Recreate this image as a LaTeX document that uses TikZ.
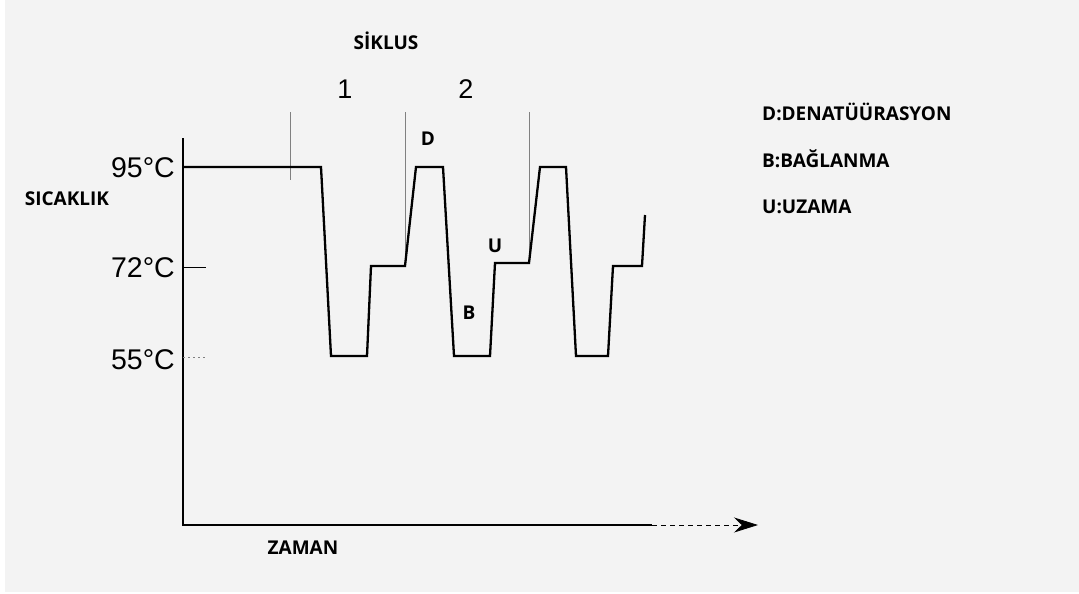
\documentclass[tikz,border=0pt]{standalone}
\usepackage{fontspec}
\setmainfont{Liberation Sans}
\newfontfamily\lblfont{Open Sans}
\usetikzlibrary{arrows.meta}
\definecolor{bg}{HTML}{F3F3F3}
\begin{document}
\begin{tikzpicture}[x=1pt,y=-1pt,
  lbl/.style={font=\lblfont\bfseries\fontsize{19}{21}\selectfont, inner sep=0pt, anchor=base},
  legend/.style={lbl, anchor=base west},
  temp/.style={font=\fontsize{28.5}{30}\selectfont, inner sep=0pt, anchor=base east},
  num/.style={font=\fontsize{27}{30}\selectfont, inner sep=0pt, anchor=base},
  curve/.style={line width=2.3pt, line join=miter},
  axis/.style={line width=1.4pt},
  cyc/.style={line width=0.9pt, draw=gray},
  tick/.style={line width=0.8pt}]
\useasboundingbox (0,0) rectangle (1079,594);
\fill[white] (0,0) rectangle (1079,594);
\fill[bg] (5,0) rectangle (1079,592);

% axes
\coordinate (o) at (183,525);
\coordinate (ytop) at (183,138);
\coordinate (xs) at (652,525);
\coordinate (xe) at (758,525);
\draw[axis] (ytop) -- (o) -- (xs);
\draw[line width=0.8pt, dash pattern=on 5pt off 4pt, -{Stealth[length=24pt,width=15pt]}] (xs) -- (xe);

% ticks
\coordinate (t72a) at (183,267);
\coordinate (t72b) at (206,267);
\coordinate (t55a) at (183,357);
\coordinate (t55b) at (206,357);
\draw[tick] (t72a) -- (t72b);
\draw[tick, draw=gray, dash pattern=on 2pt off 3pt] (t55a) -- (t55b);

% cycle separators
\coordinate (c0a) at (290,112);
\coordinate (c0b) at (290,180);
\coordinate (c1a) at (405,112);
\coordinate (c1b) at (405,266);
\coordinate (c2a) at (529,112);
\coordinate (c2b) at (529,263);
\draw[cyc] (c0a) -- (c0b);
\draw[cyc] (c1a) -- (c1b);
\draw[cyc] (c2a) -- (c2b);

% temperature profile
\draw[curve] (183,167) -- (321,167) -- (331,356) -- (367,356) -- (371,266)
  -- (405,266) -- (416,167) -- (443,167) -- (454,356) -- (490,356)
  -- (495,263) -- (529,263) -- (540,167) -- (566,167) -- (576,356)
  -- (608,356) -- (613,266) -- (642,266) -- (645,215);

% labels
\node[lbl] (siklus) at (386,50) {SİKLUS};
\node[num] (n1) at (345,99) {1};
\node[num] (n2) at (466,99) {2};
\node[temp] (t95) at (175,177) {95°C};
\node[temp] (t72) at (175,277) {72°C};
\node[temp] (t55) at (175,369) {55°C};
\node[lbl] (sicaklik) at (67,205) {SICAKLIK};
\node[lbl] (zaman) at (303,554) {ZAMAN};
\node[lbl] (dl) at (428,145) {D};
\node[lbl] (bl) at (469,319) {B};
\node[lbl] (ul) at (495,252) {U};
\node[legend] (leg1) at (762,121) {D:DENATÜÜRASYON};
\node[legend] (leg2) at (762,167) {B:BAĞLANMA};
\node[legend] (leg3) at (762,213) {U:UZAMA};
\end{tikzpicture}
\end{document}
